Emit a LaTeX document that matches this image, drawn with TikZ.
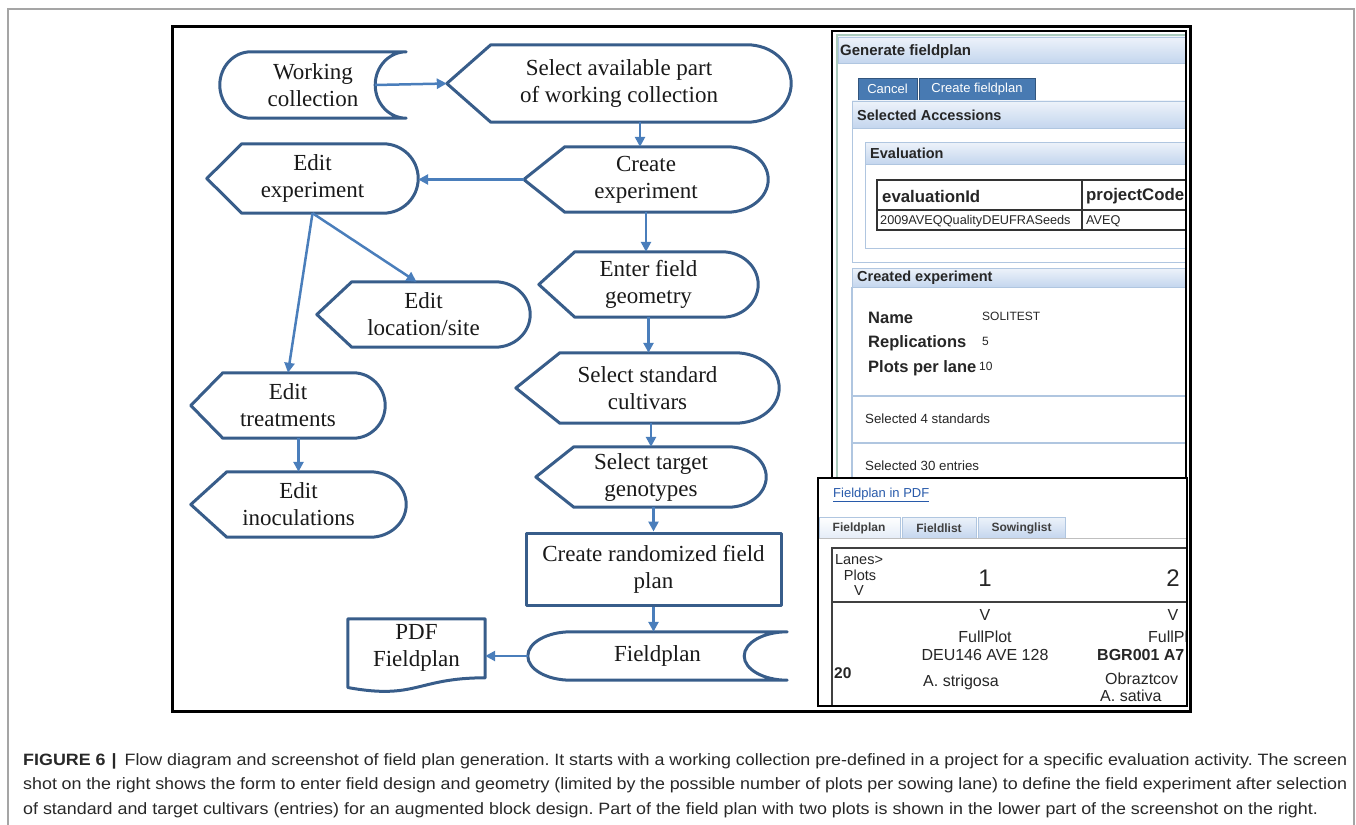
\documentclass[tikz,border=0pt]{standalone}
\usepackage{fontspec}
\setmainfont{Liberation Serif}
\newfontfamily\uifont{Liberation Sans}
\newfontfamily\capfont[FakeStretch=1.09]{Liberation Sans}
\usetikzlibrary{arrows.meta,calc}

\definecolor{shapeblue}{RGB}{56,93,138}
\definecolor{arrowblue}{RGB}{74,126,187}
\definecolor{bandblue}{RGB}{196,214,238}
\definecolor{btnblue}{RGB}{72,122,178}
\definecolor{paneline}{RGB}{176,198,224}
\definecolor{appline}{RGB}{172,204,190}
\definecolor{linkblue}{RGB}{40,90,170}
\definecolor{framegray}{RGB}{165,165,165}
\definecolor{captext}{RGB}{40,40,40}

\tikzset{
  fc/.style={inner sep=0pt, align=center, text=black!90,
    font=\fontsize{23}{27}\selectfont},
  box/.style 2 args={fc, minimum width=#1, minimum height=#2},
  shapeline/.style={draw=shapeblue, line width=3pt, line join=round},
  arr/.style={draw=arrowblue, line width=2.5pt,
    -{Triangle[length=10pt,width=10pt]}},
  ui/.style={inner sep=0pt, anchor=west, text=black!85,
    font=\uifont\fontsize{#1}{#1}\selectfont},
  uib/.style={ui=#1, font=\uifont\bfseries\fontsize{#1}{#1}\selectfont},
  band/.style={top color=bandblue!30!white, bottom color=bandblue,
    draw=paneline, line width=0.8pt},
}

% outline macros: node name, depth of point / round end
\newcommand{\dispshape}[2]{%
  \draw[shapeline] let \p1=($(#1.north east)-(#1.south west)$) in
    ([xshift=#2]#1.north west) -- ([xshift=-#2]#1.north east)
    arc[start angle=90, end angle=-90, x radius=#2, y radius=0.5*\y1]
    -- ([xshift=#2]#1.south west) -- (#1.west) -- cycle;}
\newcommand{\storeshape}[2]{%
  \draw[shapeline] let \p1=($(#1.north east)-(#1.south west)$) in
    ([xshift=#2]#1.north west) -- (#1.north east)
    arc[start angle=90, end angle=270, x radius=#2, y radius=0.5*\y1]
    -- ([xshift=#2]#1.south west)
    arc[start angle=270, end angle=90, x radius=#2, y radius=0.5*\y1] -- cycle;}

\begin{document}
\begin{tikzpicture}[x=1pt, y=-1pt]
\useasboundingbox (0,0) rectangle (1356,824);
\draw[framegray, line width=1.2pt] (8,830) -- (8,9) -- (1354,9) -- (1354,830);

% flow diagram
\node[box={186pt}{66pt}] (wc) at (313,85) {Working\\collection};
\node[box={344pt}{77pt}] (sel) at (619,83.5) {Select available part\\of working collection};
\node[box={244pt}{65pt}] (cre) at (646,179.5) {Create\\experiment};
\node[box={211pt}{69pt}] (edx) at (312.5,178.5) {Edit\\experiment};
\node[box={219pt}{65pt}] (ent) at (648.5,284.5) {Enter field\\geometry};
\node[box={213pt}{65pt}] (loc) at (423.5,314.5) {Edit\\location/site};
\node[box={263pt}{70pt}] (std) at (647.5,388) {Select standard\\cultivars};
\node[box={230pt}{60pt}] (tgt) at (651,477) {Select target\\genotypes};
\node[box={194pt}{65pt}] (trt) at (288,405.5) {Edit\\treatments};
\node[box={215pt}{65pt}] (ino) at (298.5,504.5) {Edit\\inoculations};
\node[box={255pt}{72pt}, shapeline] (rnd) at (653.5,569) {Create randomized field\\plan};
\node[box={259pt}{48pt}] (fpl) at (657.5,656) {Fieldplan};
\node[box={137pt}{58.6pt}] (pdf) at (416.5,648.3) {PDF\\Fieldplan};

\storeshape{wc}{31pt}
\storeshape{fpl}{43pt}
\dispshape{sel}{44pt}
\dispshape{cre}{41pt}
\dispshape{edx}{35pt}
\dispshape{ent}{36pt}
\dispshape{loc}{35pt}
\dispshape{std}{44pt}
\dispshape{tgt}{38pt}
\dispshape{trt}{32pt}
\dispshape{ino}{36pt}
\draw[shapeline] (pdf.south east) -- (pdf.north east) -- (pdf.north west)
  -- ([yshift=-9.7pt]pdf.south west)
  .. controls ([yshift=-22.3pt]pdf.south) and (pdf.south) .. (pdf.south east) -- cycle;

\draw[arr] ([xshift=-31pt]wc.east) -- (sel.west);
\draw[arr] ([xshift=21pt]sel.south) -- ([xshift=21pt]sel.south |- cre.north);
\draw[arr] (cre.west) -- (cre.west -| edx.east);
\draw[arr] (cre.south) -- (cre.south |- ent.north);
\draw[arr] (edx.south) -- ([xshift=-7pt]loc.north);
\draw[arr] (edx.south) -- (trt.north);
\draw[arr] (ent.south) -- (ent.south |- std.north);
\draw[arr] (tgt.north |- std.south) -- (tgt.north);
\draw[arr] (rnd.north |- tgt.south) -- (rnd.north);
\draw[arr] (ino.north |- trt.south) -- (ino.north);
\draw[arr] (rnd.south) -- (rnd.south |- fpl.north);
\draw[arr] (fpl.west) -- (fpl.west -| pdf.east);

% screenshot: form
\fill[white] (832,31) rectangle (1186,478);
\begin{scope}
  \clip (833,32) rectangle (1185,478);
  \draw[appline, line width=1.5pt] (837,478) -- (837,35) -- (1190,35);
  \shade[band] (838,37) rectangle (1190,63);
  \node[uib=15] at (840,52) {Generate fieldplan};
  \draw[fill=btnblue, draw=btnblue!70!black] (858,78) rectangle (917,100);
  \draw[fill=btnblue, draw=btnblue!70!black] (919,78) rectangle (1035,100);
  \node[ui=13, anchor=center, text=white] at (887.5,89) {Cancel};
  \node[ui=13, anchor=center, text=white] at (977,89) {Create fieldplan};
  \draw[paneline, line width=0.8pt] (852,101) rectangle (1190,262);
  \shade[band] (852,101) rectangle (1190,128);
  \node[uib=14.5] at (857,115) {Selected Accessions};
  \draw[paneline, line width=0.8pt] (865,142) rectangle (1190,248);
  \shade[band] (865,142) rectangle (1190,164);
  \node[uib=14.5] at (870,153) {Evaluation};
  \draw[black!80, line width=1.3pt] (877,180) rectangle (1190,230)
    (877,210) -- (1190,210) (1082,180) -- (1082,230);
  \node[uib=16.8] at (882,196) {evaluationId};
  \node[uib=16.8] at (1086,196) {projectCode};
  \node[ui=12.7] at (880,221) {2009AVEQQualityDEUFRASeeds};
  \node[ui=12.7] at (1086,221) {AVEQ};
  \shade[band] (852,268) rectangle (1190,287);
  \node[uib=14.5] at (857,278) {Created experiment};
  \draw[paneline, line width=1.2pt] (852,287) -- (852,478)
    (852,396) -- (1190,396) (852,443) -- (1190,443);
  \node[uib=16.5] at (868,318) {Name};
  \node[uib=16.5] at (868,343) {Replications};
  \node[uib=16.5] at (868,368) {Plots per lane};
  \node[ui=12] at (982,316) {SOLITEST};
  \node[ui=12] at (982,341) {5};
  \node[ui=12] at (979,366) {10};
  \node[ui=13.3] at (865,419) {Selected 4 standards};
  \node[ui=13.3] at (865,466) {Selected 30 entries};
\end{scope}
\draw[black, line width=1.5pt] (832,31) rectangle (1186,478);

% screenshot: field plan
\fill[white] (818,478) rectangle (1187,706);
\begin{scope}
  \clip (819,479) rectangle (1186,705);
  \node[ui=13, text=linkblue] at (833,495) {\underline{Fieldplan in PDF}};
  \shade[top color=white, bottom color=bandblue!45!white, draw=paneline] (819,517) rectangle (900,538);
  \shade[band] (902,517) rectangle (976,538);
  \shade[band] (978,517) rectangle (1065,538);
  \draw[black!25] (818,538) -- (1190,538);
  \node[uib=12, anchor=center, text=black!75] at (859,528) {Fieldplan};
  \node[uib=12, anchor=center, text=black!75] at (939,528) {Fieldlist};
  \node[uib=12, anchor=center, text=black!75] at (1021.5,528) {Sowinglist};
  \draw[black!75, line width=1.5pt] (1190,548) -- (832,548) -- (832,710)
    (832,602) -- (1190,602);
  \node[ui=14.5, anchor=center] at (859,560) {Lanes>};
  \node[ui=14.5, anchor=center] at (860,575.5) {Plots};
  \node[ui=14.5, anchor=center] at (859,591) {V};
  \node[ui=24, anchor=center] at (985,578) {1};
  \node[ui=24, anchor=center] at (1173,578) {2};
  \node[ui=16, anchor=center] at (985,615) {V};
  \node[ui=16, anchor=center] at (985,637) {FullPlot};
  \node[ui=16, anchor=center] at (985,655) {DEU146 AVE 128};
  \node[ui=16] at (923,682) {A. strigosa};
  \node[uib=15.5] at (834,673) {20};
  \node[ui=16, anchor=center] at (1173,615) {V};
  \node[ui=16] at (1148,637) {FullPl};
  \node[uib=16] at (1097,655) {BGR001 A7};
  \node[ui=16] at (1105,679) {Obraztcov};
  \node[ui=16] at (1100,696) {A. sativa};
\end{scope}
\draw[black, line width=2.5pt] (818,478) rectangle (1187,706);

% outer frame of the figure
\draw[black, line width=3pt] (172.5,26.5) rectangle (1190.5,711.5);

% caption
\node[anchor=north west, inner sep=0pt, text width=1324pt, align=justify,
  text=captext, font=\capfont\fontsize{16.4}{24.5}\selectfont] (cap) at (23,753.3)
  {\frenchspacing\hyphenpenalty=10000\textbf{FIGURE 6}\hspace{6pt}\textbf{|}\hspace{8pt}Flow diagram and screenshot of field plan generation. It starts with a working collection pre-defined in a project for a specific evaluation activity. The screen\linebreak
  shot on the right shows the form to enter field design and geometry (limited by the possible number of plots per sowing lane) to define the field experiment after selection\linebreak
  of standard and target cultivars (entries) for an augmented block design. Part of the field plan with two plots is shown in the lower part of the screenshot on the right.};
\end{tikzpicture}
\end{document}
